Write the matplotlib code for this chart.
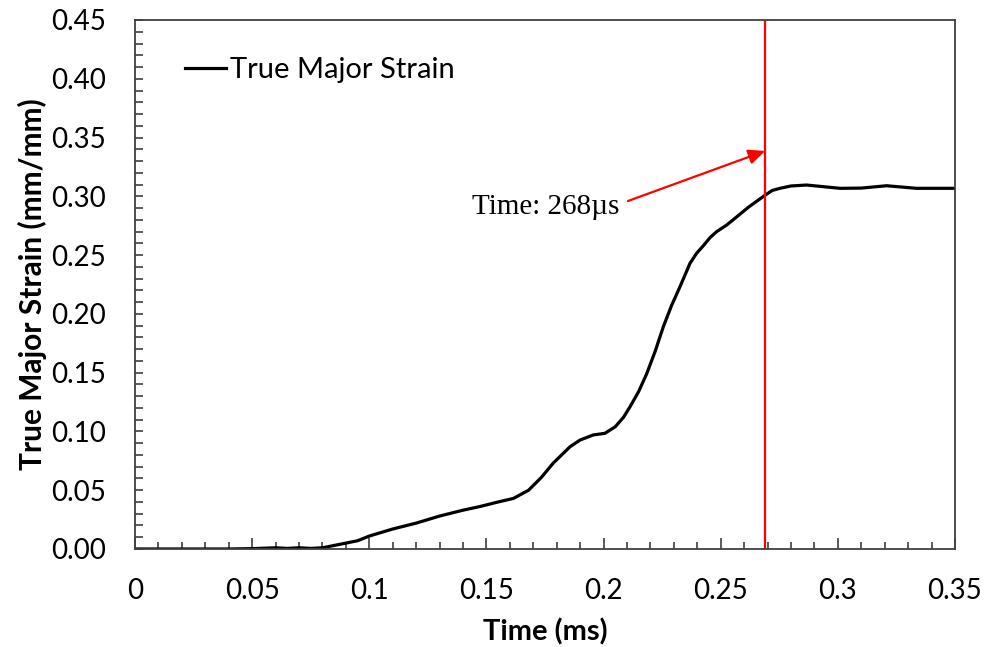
import matplotlib
matplotlib.use("Agg")
import matplotlib.pyplot as plt
from matplotlib.ticker import MultipleLocator, FormatStrFormatter

# values
time_ms = [0, 0.02, 0.04, 0.05, 0.06, 0.065, 0.07, 0.075, 0.08, 0.085, 0.09, 0.095,
           0.1, 0.11, 0.12, 0.13, 0.14, 0.147, 0.155, 0.1615, 0.168, 0.1735, 0.1785,
           0.1857, 0.19, 0.1956, 0.2006, 0.205, 0.2085, 0.2113, 0.215, 0.2184, 0.222,
           0.2255, 0.229, 0.2326, 0.2369, 0.2397, 0.2426, 0.2455, 0.2483, 0.2525, 0.2553,
           0.262, 0.269, 0.272, 0.2753, 0.28, 0.2867, 0.301, 0.31, 0.3208, 0.3336, 0.35]
major_strain = [0, 0, 0, 0.0003, 0.001, 0.0005, 0.001, 0.0005, 0.001, 0.003, 0.005, 0.007,
                0.011, 0.017, 0.022, 0.028, 0.033, 0.036, 0.040, 0.043, 0.050, 0.061, 0.073,
                0.087, 0.0927, 0.097, 0.0984, 0.104, 0.112, 0.121, 0.134, 0.149, 0.168,
                0.189, 0.207, 0.223, 0.243, 0.2515, 0.258, 0.265, 0.270, 0.2755, 0.280,
                0.291, 0.301, 0.305, 0.3068, 0.3088, 0.3096, 0.3068, 0.307, 0.309, 0.3068, 0.3068]

marker_time = 0.269
note_text = "Time: 268\u00b5s"
note_xy = (0.2104, 0.296)
arrow_tip = (0.269, 0.3386)

fig = plt.figure(figsize=(9.9, 6.47), dpi=100)
ax = fig.add_axes([0.1364, 0.1515, 0.8282, 0.8176])

ax.plot(time_ms, major_strain, color="black", lw=2.3, label="True Major Strain",
        solid_joinstyle="round")
ax.axvline(marker_time, color="red", lw=1.6)
ax.annotate("", xy=arrow_tip, xytext=note_xy,
            arrowprops=dict(arrowstyle="-|>,head_length=1.0,head_width=0.45",
                            color="red", lw=1.6, shrinkA=0, shrinkB=0))
ax.text(note_xy[0] - 0.0035, note_xy[1] - 0.005, note_text, ha="right", va="center",
        family="Liberation Serif", fontsize=21)

ax.set_xlim(0, 0.35)
ax.set_ylim(0, 0.45)
ax.xaxis.set_major_locator(MultipleLocator(0.05))
ax.xaxis.set_minor_locator(MultipleLocator(0.01))
ax.yaxis.set_major_locator(MultipleLocator(0.05))
ax.yaxis.set_minor_locator(MultipleLocator(0.01))
ax.xaxis.set_major_formatter(plt.FuncFormatter(lambda v, p: f"{v:g}"))
ax.yaxis.set_major_formatter(FormatStrFormatter("%.2f"))

ax.tick_params(which="both", direction="in", color="#404040", width=1.2)
ax.tick_params(axis="x", which="major", length=8, pad=21)
ax.tick_params(axis="x", which="minor", length=5)
ax.tick_params(axis="y", which="both", length=6, pad=21)
ax.tick_params(labelsize=20)
for lbl in ax.get_xticklabels() + ax.get_yticklabels():
    lbl.set_family("Lato")
for s in ax.spines.values():
    s.set_color("#404040")
    s.set_linewidth(1.3)

ax.set_xlabel("Time (ms)", family="Lato", fontweight="bold", fontsize=21, labelpad=10)
ax.set_ylabel("True Major Strain (mm/mm)", family="Lato", fontweight="bold", fontsize=21.5, labelpad=3)

ax.legend(loc="upper left", bbox_to_anchor=(0.029, 0.98), frameon=False,
          handlelength=1.4, handletextpad=0.15, prop={"family": "Lato", "size": 21})

fig.savefig("out.png", dpi=100)
